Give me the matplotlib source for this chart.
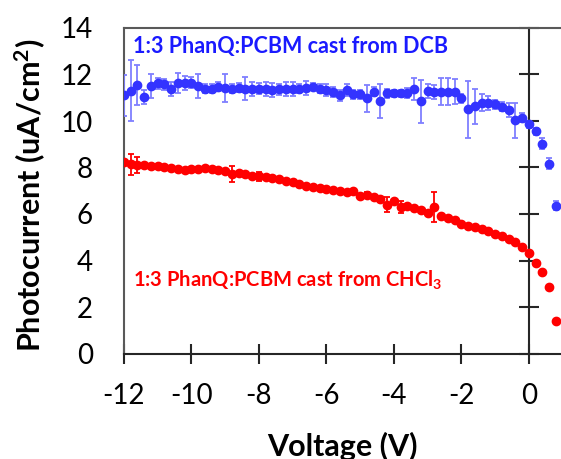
import matplotlib.pyplot as plt
import numpy as np

plt.rcParams['font.family'] = ['Lato', 'DejaVu Sans']
plt.rcParams['axes.unicode_minus'] = False
plt.rcParams['mathtext.default'] = 'regular'

# bias voltage (V)
voltage = [-12.0, -11.8, -11.6, -11.4, -11.2, -11.0, -10.8, -10.6, -10.4, -10.2,
           -10.0, -9.8, -9.6, -9.4, -9.2, -9.0, -8.8, -8.6, -8.4, -8.2,
           -8.0, -7.8, -7.6, -7.4, -7.2, -7.0, -6.8, -6.6, -6.4, -6.2,
           -6.0, -5.8, -5.6, -5.4, -5.2, -5.0, -4.8, -4.6, -4.4, -4.2,
           -4.0, -3.8, -3.6, -3.4, -3.2, -3.0, -2.8, -2.6, -2.4, -2.2,
           -2.0, -1.8, -1.6, -1.4, -1.2, -1.0, -0.8, -0.6, -0.4, -0.2,
           0.0, 0.2, 0.4, 0.6, 0.8]

# DCB cast film
dcb_current = [11.10, 11.31, 11.54, 11.03, 11.50, 11.62, 11.57, 11.36, 11.65, 11.62,
               11.65, 11.50, 11.39, 11.39, 11.47, 11.43, 11.39, 11.43, 11.39, 11.36,
               11.39, 11.36, 11.33, 11.36, 11.39, 11.36, 11.39, 11.43, 11.47, 11.39,
               11.33, 11.25, 11.10, 11.33, 11.14, 11.14, 10.97, 11.26, 10.85, 11.19,
               11.19, 11.19, 11.21, 11.39, 10.85, 11.29, 11.24, 11.26, 11.26, 11.26,
               10.97, 10.50, 10.64, 10.78, 10.78, 10.71, 10.61, 10.47, 10.03, 10.14,
               9.85, 9.56, 9.03, 8.17, 6.36]
dcb_err = [0.88, 1.30, 0.85, 0.30, 0.50, 0.25, 0.25, 0.30, 0.43, 0.30,
           0.25, 0.50, 0.20, 0.20, 0.20, 0.60, 0.20, 0.20, 0.50, 0.30,
           0.25, 0.30, 0.30, 0.25, 0.30, 0.30, 0.20, 0.30, 0.15, 0.20,
           0.25, 0.20, 0.25, 0.27, 0.20, 0.20, 0.57, 0.20, 0.72, 0.20,
           0.15, 0.15, 0.20, 0.47, 0.93, 0.30, 0.30, 0.57, 0.57, 0.54,
           0.20, 1.24, 0.75, 0.36, 0.30, 0.20, 0.20, 0.30, 0.74, 0.20,
           0.15, 0.15, 0.24, 0.25, 0.20]

# CHCl3 cast film
chcl3_current = [8.23, 8.13, 8.10, 8.10, 8.08, 8.05, 8.00, 7.97, 7.94, 7.90,
                 7.92, 7.94, 7.97, 7.92, 7.88, 7.84, 7.72, 7.77, 7.70, 7.62,
                 7.62, 7.59, 7.55, 7.51, 7.41, 7.36, 7.28, 7.22, 7.18, 7.12,
                 7.07, 7.03, 7.00, 6.93, 7.00, 6.78, 6.83, 6.73, 6.65, 6.40,
                 6.54, 6.30, 6.36, 6.26, 6.16, 6.04, 6.30, 5.90, 5.83, 5.75,
                 5.58, 5.50, 5.44, 5.35, 5.25, 5.15, 5.04, 4.92, 4.78, 4.58,
                 4.32, 3.89, 3.50, 2.88, 1.41]
chcl3_err = [0.05, 0.45, 0.35, 0.05, 0.05, 0.05, 0.05, 0.05, 0.05, 0.05,
             0.05, 0.05, 0.05, 0.05, 0.05, 0.05, 0.35, 0.05, 0.05, 0.05,
             0.20, 0.05, 0.05, 0.05, 0.05, 0.05, 0.05, 0.05, 0.05, 0.05,
             0.05, 0.05, 0.05, 0.05, 0.05, 0.05, 0.10, 0.05, 0.05, 0.32,
             0.05, 0.25, 0.05, 0.05, 0.05, 0.05, 0.65, 0.05, 0.05, 0.05,
             0.05, 0.05, 0.05, 0.05, 0.05, 0.05, 0.05, 0.05, 0.05, 0.05,
             0.05, 0.05, 0.05, 0.05, 0.05]

fig = plt.figure(figsize=(5.61, 4.59), dpi=100)
ax = fig.add_axes([124/561, 105.5/459, 437/561, 325.5/459])

ax.errorbar(voltage, dcb_current, yerr=dcb_err, fmt='o', color='#3333ff', ms=6,
            ecolor='#7f7fff', elinewidth=1.3, capsize=2.5, capthick=1.3, zorder=3)
ax.errorbar(voltage, chcl3_current, yerr=chcl3_err, fmt='o', color='#ff0000', ms=6,
            ecolor='#ff0000', elinewidth=1.3, capsize=2.5, capthick=1.3, zorder=3)

ax.set_xlim(-12, 0.95)
ax.set_ylim(0, 14)
ax.set_xticks([-12, -10, -8, -6, -4, -2, 0])
ax.set_yticks([0, 2, 4, 6, 8, 10, 12, 14])

# plot area border (left/top) and axis lines at y=0 and x=0
ax.spines['left'].set_color('#595959')
ax.spines['top'].set_color('#595959')
ax.spines['left'].set_linewidth(1.5)
ax.spines['top'].set_linewidth(1.5)
ax.spines['bottom'].set_color('#262626')
ax.spines['bottom'].set_linewidth(1.5)
ax.spines['right'].set_position(('data', 0))
ax.spines['right'].set_color('#262626')
ax.spines['right'].set_linewidth(1.5)

ax.tick_params(axis='x', direction='inout', length=15, width=1.5, color='#262626',
               labelsize=20, pad=14)
ax.tick_params(axis='y', direction='inout', length=15, width=1.5, color='#262626',
               left=False, right=True, labelleft=True, labelright=False,
               labelsize=20, pad=15)

ax.text(-11.73, 13.2, '1:3 PhanQ:PCBM cast from DCB', color='#1a1aff',
        fontsize=15.5, fontweight='bold', va='center', ha='left')
ax.text(-11.73, 3.15, '1:3 PhanQ:PCBM cast from CHCl$_3$', color='#ff0000',
        fontsize=14.5, fontweight='bold', va='center', ha='left')

fig.text(30/561, 1 - 195/459, 'Photocurrent (uA/cm$^2$)', rotation=90,
         fontsize=22, fontweight='bold', ha='center', va='center')
fig.text(342/561, 1 - 446/459, 'Voltage (V)', fontsize=22, fontweight='bold',
         ha='center', va='center')

fig.savefig('out.png', dpi=100)
